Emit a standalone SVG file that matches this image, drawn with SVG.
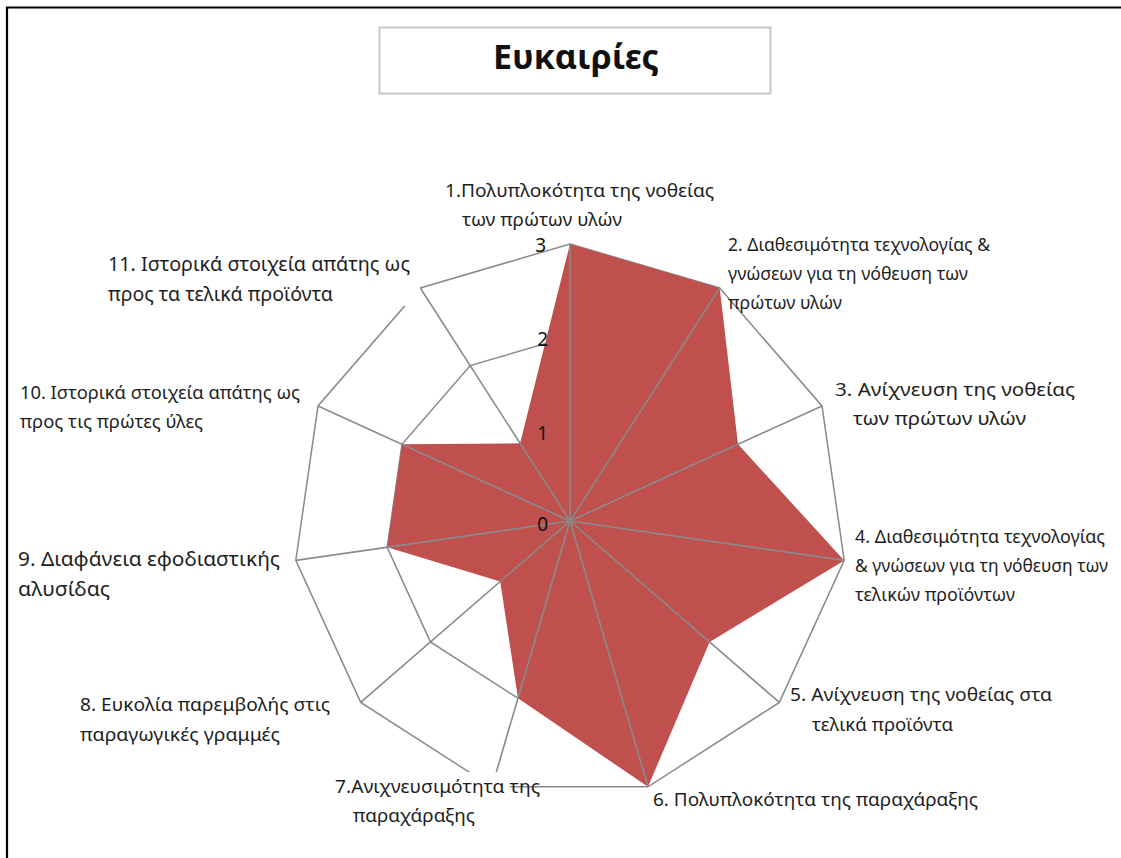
<svg xmlns="http://www.w3.org/2000/svg" width="1121" height="858" viewBox="0 0 1121 858">
<style>
.lbl{font-family:"Noto Sans","Open Sans",sans-serif;font-size:18.5px;fill:#1e1e1e}
.big{font-size:19.5px}
.sm{font-size:17.5px}
.tick{font-family:"Noto Sans","Open Sans",sans-serif;font-size:19px;fill:#111;text-anchor:end}
.grid{fill:none;stroke:#8a8a8a;stroke-width:1.5}
.axis{stroke:#8a8a8a;stroke-width:1.6}
</style>
<rect x="0" y="0" width="1121" height="858" fill="#fff"/>
<path d="M7,858 V7.5 H1121" fill="none" stroke="#000" stroke-width="2.2"/>
<g id="title">
<rect x="379.5" y="27.5" width="391" height="66" fill="#fff" stroke="#c8c8c8" stroke-width="2"/>
<text x="576" y="69" text-anchor="middle" style="font-family:'Noto Sans','Open Sans',sans-serif;font-size:34px;font-weight:bold;fill:#111">Ευκαιρίες</text>
</g>
<g id="connectors">
<polygon class="grid" points="570,244 719.7,288 822,405.9 844.2,560.4 779.3,702.4 648,786.8 492,786.8 360.7,702.4 295.8,560.4 318,405.9 420.3,288"/>
<polygon class="grid" points="570,336.3 669.8,365.6 738,444.3 752.8,547.3 709.6,641.9 622,698.2 518,698.2 430.4,641.9 387.2,547.3 402,444.3 470.2,365.6"/>
<polygon class="grid" points="570,428.7 619.9,443.3 654,482.6 661.4,534.1 639.8,581.5 596,609.6 544,609.6 500.2,581.5 478.6,534.1 486,482.6 520.1,443.3"/>
<polygon id="series" fill="#C0504D" points="570,244 719.7,288 738,444.3 844.2,560.4 709.6,641.9 648,786.8 518,698.2 500.2,581.5 387.2,547.3 402,444.3 520.1,443.3"/>
<g class="axis">
<line x1="570" y1="521" x2="570" y2="244"/>
<line x1="570" y1="521" x2="719.7" y2="288"/>
<line x1="570" y1="521" x2="822" y2="405.9"/>
<line x1="570" y1="521" x2="844.2" y2="560.4"/>
<line x1="570" y1="521" x2="779.3" y2="702.4"/>
<line x1="570" y1="521" x2="648" y2="786.8"/>
<line x1="570" y1="521" x2="492" y2="786.8"/>
<line x1="570" y1="521" x2="360.7" y2="702.4"/>
<line x1="570" y1="521" x2="295.8" y2="560.4"/>
<line x1="570" y1="521" x2="318" y2="405.9"/>
<line x1="570" y1="521" x2="420.3" y2="288"/>
</g>
</g>
<g id="ticks">
<text class="tick" x="548" y="531">0</text>
<text class="tick" x="548" y="440">1</text>
<text class="tick" x="548" y="346">2</text>
<text class="tick" x="546" y="252">3</text>
</g>
<g id="label-1"><text class="lbl" x="445" y="197" textLength="269" lengthAdjust="spacingAndGlyphs">1.Πολυπλοκότητα της νοθείας</text><text class="lbl" x="462" y="226" textLength="160" lengthAdjust="spacingAndGlyphs">των πρώτων υλών</text></g>
<g id="label-2"><text class="lbl" x="728" y="251" textLength="262" lengthAdjust="spacingAndGlyphs">2. Διαθεσιμότητα τεχνολογίας &amp;</text><text class="lbl" x="728" y="280" textLength="240" lengthAdjust="spacingAndGlyphs">γνώσεων για τη νόθευση των</text><text class="lbl" x="728" y="309" textLength="114" lengthAdjust="spacingAndGlyphs">πρώτων υλών</text></g>
<g id="label-3"><text class="lbl" x="835" y="396" textLength="240" lengthAdjust="spacingAndGlyphs">3. Ανίχνευση της νοθείας</text><text class="lbl" x="853" y="425" textLength="173" lengthAdjust="spacingAndGlyphs">των πρώτων υλών</text></g>
<g id="label-4"><text class="lbl sm" x="855" y="543" textLength="250" lengthAdjust="spacingAndGlyphs">4. Διαθεσιμότητα τεχνολογίας</text><text class="lbl sm" x="855" y="572" textLength="253" lengthAdjust="spacingAndGlyphs">&amp; γνώσεων για τη νόθευση των</text><text class="lbl sm" x="855" y="601" textLength="160" lengthAdjust="spacingAndGlyphs">τελικών προϊόντων</text></g>
<g id="label-5"><text class="lbl" x="790" y="701" textLength="262" lengthAdjust="spacingAndGlyphs">5. Ανίχνευση της νοθείας στα</text><text class="lbl" x="812" y="731" textLength="141" lengthAdjust="spacingAndGlyphs">τελικά προϊόντα</text></g>
<g id="label-6"><text class="lbl" x="653" y="806" textLength="325" lengthAdjust="spacingAndGlyphs">6. Πολυπλοκότητα της παραχάραξης</text></g>
<g id="label-7"><rect x="330" y="772" width="180" height="20" fill="#fff"/><text class="lbl" x="335" y="793" textLength="205" lengthAdjust="spacingAndGlyphs">7.Ανιχνευσιμότητα της</text><text class="lbl" x="353" y="822" textLength="122" lengthAdjust="spacingAndGlyphs">παραχάραξης</text></g>
<g id="label-8"><text class="lbl" x="80" y="711" textLength="250" lengthAdjust="spacingAndGlyphs">8. Ευκολία παρεμβολής στις</text><text class="lbl" x="80" y="741" textLength="200" lengthAdjust="spacingAndGlyphs">παραγωγικές γραμμές</text></g>
<g id="label-9"><text class="lbl big" x="18" y="566" textLength="262" lengthAdjust="spacingAndGlyphs">9. Διαφάνεια εφοδιαστικής</text><text class="lbl big" x="18" y="596" textLength="92" lengthAdjust="spacingAndGlyphs">αλυσίδας</text></g>
<g id="label-10"><text class="lbl" x="20" y="399" textLength="280" lengthAdjust="spacingAndGlyphs">10. Ιστορικά στοιχεία απάτης ως</text><text class="lbl" x="20" y="428" textLength="183" lengthAdjust="spacingAndGlyphs">προς τις πρώτες ύλες</text></g>
<g id="label-11"><rect x="400" y="286" width="20" height="20" fill="#fff"/><text class="lbl big" x="108" y="271" textLength="302" lengthAdjust="spacingAndGlyphs">11. Ιστορικά στοιχεία απάτης ως</text><text class="lbl big" x="108" y="301" textLength="225" lengthAdjust="spacingAndGlyphs">προς τα τελικά προϊόντα</text></g>
</svg>
